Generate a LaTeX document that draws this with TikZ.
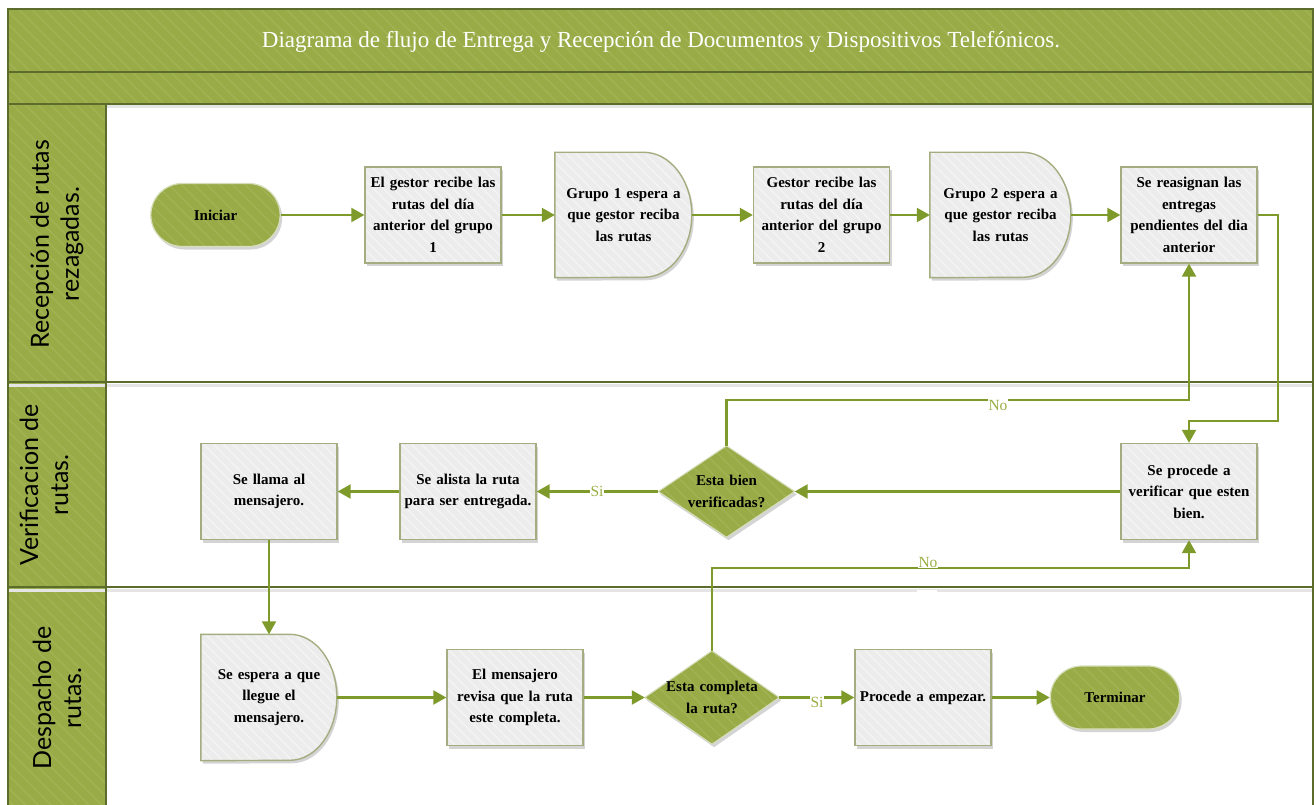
\documentclass[tikz,border=0pt]{standalone}
\usepackage{fontspec}
\setmainfont{Liberation Serif}
\newfontfamily\lanefont{Lato}
\usetikzlibrary{shapes.misc,arrows.meta,shadows,patterns.meta}

\definecolor{hdr}{HTML}{98AB47}
\definecolor{hatchgreen}{HTML}{A0B252}
\definecolor{hdrline}{HTML}{5C6C2C}
\definecolor{connc}{HTML}{7E9A2A}
\definecolor{boxfill}{HTML}{ECECEC}
\definecolor{hatchgrey}{HTML}{F4F4F4}
\definecolor{boxline}{HTML}{A3AD7F}
\definecolor{termline}{HTML}{D6DEBB}
\definecolor{lblc}{HTML}{9AAF42}

\newcommand\flowfont{\bfseries\fontsize{15}{21.5}\selectfont}

\pgfdeclarelayer{lanes}
\pgfdeclarelayer{shapes}
\pgfsetlayers{lanes,shapes,main}

\tikzset{
  conn/.style={draw=connc, line width=2.2pt, -{Triangle[length=13pt,width=14pt]}},
  softshadow/.style={drop shadow={shadow xshift=2pt, shadow yshift=-3pt, opacity=0.28, fill=black!60}},
  greenhatch/.style={postaction={pattern={Lines[angle=-45,distance=9pt,line width=1.6pt]}, pattern color=hatchgreen}},
  greyfill/.style={preaction={fill=boxfill},
    preaction={pattern={Lines[angle=-45,distance=7pt,line width=1.4pt]}, pattern color=hatchgrey}},
  greenfill/.style={preaction={fill=hdr},
    preaction={pattern={Lines[angle=-45,distance=9pt,line width=1.6pt]}, pattern color=hatchgreen}},
  procbox/.style={rectangle, softshadow, greyfill, draw=boxline, line width=1.4pt,
    minimum width=136pt, minimum height=96pt, text width=136pt, align=center, inner sep=0pt, font=\flowfont},
  textarea/.style={rectangle, inner sep=0pt, text width=130pt, align=center, font=\flowfont},
  terminal/.style={rounded rectangle, softshadow, greenfill, draw=termline, line width=1.2pt,
    minimum width=136pt, minimum height=63pt, font=\flowfont},
  delayshape/.style={softshadow, greyfill, draw=boxline, line width=1.4pt},
  decshape/.style={softshadow, greenfill, draw=termline, line width=1pt},
  edgelabel/.style={fill=white, inner sep=1pt, text=lblc, font=\fontsize{15.5}{15.5}\selectfont},
  lanelabel/.style={rotate=90, align=center, font=\lanefont\fontsize{25}{30}\selectfont, text=black},
}

\begin{document}
\begin{tikzpicture}[x=1pt,y=-1pt]
\useasboundingbox (0,0) rectangle (1316,805);
\clip (0,0) rectangle (1316,805);

% swimlane frame
\begin{pgfonlayer}{lanes}
  \fill[white] (0,0) rectangle (1316,805);
  \fill[hdr, greenhatch] (8,9) rectangle (1313,104);
  \fill[hdr, greenhatch] (8,104) rectangle (106,812);
  \draw[black!10, line width=3pt] (106,107) -- (1313,107);
  \draw[black!10, line width=3pt] (8,385) -- (1313,385);
  \draw[black!10, line width=3pt] (8,590) -- (1313,590);
  \draw[hdrline, line width=1.5pt] (8,72) -- (1313,72);
  \draw[hdrline, line width=1.5pt] (8,104) -- (1313,104);
  \draw[hdrline, line width=1.5pt] (8,382) -- (1313,382);
  \draw[hdrline, line width=1.5pt] (8,587) -- (1313,587);
  \draw[hdrline, line width=1.5pt] (106,104) -- (106,812);
  \draw[hdrline, line width=1.5pt] (8,812) -- (8,9) -- (1313,9) -- (1313,812);
\end{pgfonlayer}

\node[text=white, font=\fontsize{23}{26}\selectfont] (title) at (661,42)
  {Diagrama de flujo de Entrega y Recepción de Documentos y Dispositivos Telefónicos.};

% lane headings
\node[lanelabel] (lane1) at (57,244) {Recepción de rutas\\rezagadas.};
\node[lanelabel] (lane2) at (44,485) {Verificacion de\\rutas.};
\node[lanelabel] (lane3) at (57,698) {Despacho de\\rutas.};

% lane 1
\node[terminal] (ini) at (215.5,215) {Iniciar};
\node[procbox] (b1) at (433,215) {El gestor recibe las\\rutas del día\\anterior del grupo\\1};
\node[textarea, minimum width=137pt, minimum height=125pt] (g1) at (623.5,215) {Grupo 1 espera a\\que gestor reciba\\las rutas};
\node[procbox] (b3) at (821.5,215) {Gestor recibe las\\rutas del día\\anterior del grupo\\2};
\node[textarea, minimum width=141pt, minimum height=125pt] (g2) at (1000.5,215) {Grupo 2 espera a\\que gestor reciba\\las rutas};
\node[procbox] (b6) at (1189,215) {Se reasignan las\\entregas\\pendientes del dia\\anterior};

% lane 2
\node[procbox] (b7) at (1189,491.5) {Se procede a\\verificar que esten\\bien.};
\node[textarea, text width=110pt, minimum width=136pt, minimum height=91pt] (d1) at (726.5,491.5) {Esta bien\\verificadas?};
\node[procbox] (b5) at (468,491.5) {Se alista la ruta\\para ser entregada.};
\node[procbox] (b4) at (269,491.5) {Se llama al\\mensajero.};

% lane 3
\node[textarea, minimum width=136pt, minimum height=126pt] (g3) at (269,697.5) {Se espera a que\\llegue el\\mensajero.};
\node[procbox] (b8) at (515,697.5) {El mensajero\\revisa que la ruta\\este completa.};
\node[textarea, text width=110pt, minimum width=134pt, minimum height=93pt] (d2) at (712,697.5) {Esta completa\\la ruta?};
\node[procbox] (b9) at (923,697.5) {Procede a empezar.};
\node[terminal] (term) at (1115,697.5) {Terminar};

% delay and decision outlines behind their texts
\begin{pgfonlayer}{shapes}
  \path[delayshape] (g1.north west) -- ([xshift=89pt]g1.north west)
    arc[start angle=90, end angle=-90, x radius=48pt, y radius=62.5pt] -- (g1.south west) -- cycle;
  \path[delayshape] (g2.north west) -- ([xshift=93pt]g2.north west)
    arc[start angle=90, end angle=-90, x radius=48pt, y radius=62.5pt] -- (g2.south west) -- cycle;
  \path[delayshape] (g3.north west) -- ([xshift=89pt]g3.north west)
    arc[start angle=90, end angle=-90, x radius=47pt, y radius=63pt] -- (g3.south west) -- cycle;
  \path[decshape] (d1.north) -- (d1.east) -- (d1.south) -- (d1.west) -- cycle;
  \path[decshape] (d2.north) -- (d2.east) -- (d2.south) -- (d2.west) -- cycle;
\end{pgfonlayer}

% connectors
\coordinate (r1) at (1278,421);
\coordinate (n1) at (1189,400);
\coordinate (n2) at (1189,568);

\draw[conn] (ini.east) -- (b1.west);
\draw[conn] (b1.east) -- (g1.west);
\draw[conn] (g1.east) -- (b3.west);
\draw[conn] (b3.east) -- (g2.west);
\draw[conn] (g2.east) -- (b6.west);
\draw[conn] (b6.east) -| (r1) -| (b7.north);
\draw[conn] (b7.west) -- (d1.east);
\draw[conn] (d1.north) |- (n1) -- (b6.south);
\draw[conn] (d1.west) -- (b5.east);
\draw[conn] (b5.west) -- (b4.east);
\draw[conn] (b4.south) -- (g3.north);
\draw[conn] (g3.east) -- (b8.west);
\draw[conn] (b8.east) -- (d2.west);
\draw[conn] (d2.north) |- (n2) -- (b7.south);
\draw[conn] (d2.east) -- (b9.west);
\draw[conn] (b9.east) -- (term.west);

\node[edgelabel] (no1) at (998,405) {No};
\node[edgelabel] (si1) at (597,491) {Si};
\node[edgelabel] (no2) at (928,562) {No};
\node[edgelabel] (si2) at (817,702) {Si};
\fill[white] (917,589.5) rectangle (937,594);
\end{tikzpicture}
\end{document}
